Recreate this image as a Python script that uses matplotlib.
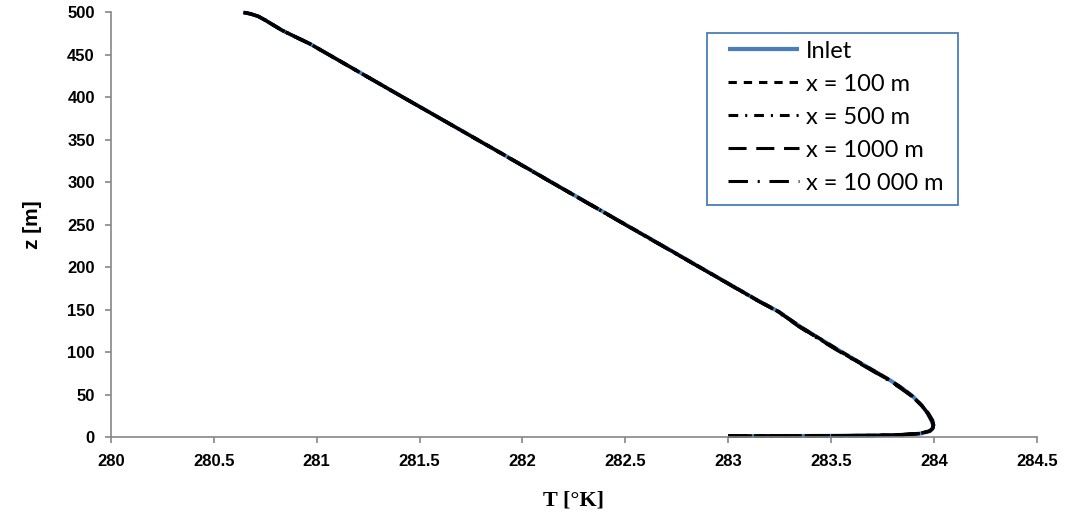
import matplotlib
matplotlib.use("Agg")
import matplotlib.pyplot as plt
from matplotlib.patches import Rectangle

# vertical profile heights [m]
z = [1.2, 1.3, 1.8, 2.6, 4.2, 7.0, 10.0, 14.0, 20.0, 28.0, 37.0, 47.5, 57.0, 67.0,
     85.0, 102.5, 118.0, 130.0, 147.6, 161.4, 222.3, 288.9, 336.0, 375.4, 400.8,
     463.0, 471.5, 479.0, 486.0, 491.0, 495.5, 498.5, 500.0]

# temperature profiles [K]
T_inlet = [283.00, 283.40, 283.72, 283.85, 283.94, 283.98, 283.993, 283.995, 283.986,
           283.968, 283.94, 283.898, 283.848, 283.785, 283.658, 283.535, 283.43, 283.35,
           283.245, 283.139, 282.702, 282.222, 281.884, 281.599, 281.415, 280.968, 280.895,
           280.832, 280.784, 280.75, 280.716, 280.677, 280.644]
T_100 = [283.00, 283.40, 283.72, 283.85, 283.94, 283.98, 283.993, 283.995, 283.986,
         283.968, 283.94, 283.898, 283.848, 283.785, 283.658, 283.535, 283.43, 283.35,
         283.245, 283.139, 282.702, 282.222, 281.884, 281.599, 281.415, 280.968, 280.895,
         280.832, 280.784, 280.75, 280.716, 280.677, 280.644]
T_500 = [283.00, 283.39, 283.71, 283.84, 283.935, 283.978, 283.992, 283.996, 283.988,
         283.968, 283.94, 283.896, 283.845, 283.783, 283.655, 283.532, 283.428, 283.348,
         283.244, 283.138, 282.70, 282.221, 281.883, 281.599, 281.415, 280.968, 280.895,
         280.832, 280.784, 280.75, 280.716, 280.677, 280.644]
T_1000 = [283.00, 283.38, 283.70, 283.84, 283.93, 283.976, 283.992, 283.997, 283.99,
          283.97, 283.94, 283.895, 283.843, 283.781, 283.653, 283.53, 283.425, 283.346,
          283.243, 283.137, 282.70, 282.22, 281.883, 281.599, 281.415, 280.968, 280.895,
          280.832, 280.784, 280.75, 280.716, 280.677, 280.644]
T_10000 = [283.00, 283.37, 283.69, 283.83, 283.93, 283.975, 283.991, 283.998, 283.992,
           283.972, 283.941, 283.894, 283.84, 283.778, 283.65, 283.527, 283.422, 283.343,
           283.241, 283.136, 282.699, 282.219, 281.882, 281.598, 281.415, 280.968, 280.895,
           280.832, 280.784, 280.75, 280.716, 280.677, 280.644]

labels = ["Inlet", "x = 100 m", "x = 500 m", "x = 1000 m", "x = 10 000 m"]
xticks = [280, 280.5, 281, 281.5, 282, 282.5, 283, 283.5, 284, 284.5]
yticks = [0, 50, 100, 150, 200, 250, 300, 350, 400, 450, 500]

plt.rcParams["lines.scale_dashes"] = False
blue = "#4A7EBB"
grey = "#868686"

fig = plt.figure(figsize=(10.69, 5.19), dpi=100)
ax = fig.add_axes([0.1036, 0.158, 0.8665, 0.818])

lw = 2.4
ax.plot(T_inlet, z, color=blue, lw=2.8, label=labels[0], clip_on=False, solid_capstyle="butt")
ax.plot(T_100, z, color="black", lw=lw, dashes=(6, 5), label=labels[1], clip_on=False)
ax.plot(T_500, z, color="black", lw=lw, dashes=(7, 5, 1.5, 5), label=labels[2], clip_on=False)
ax.plot(T_1000, z, color="black", lw=lw, dashes=(13, 7), label=labels[3], clip_on=False)
ax.plot(T_10000, z, color="black", lw=lw, dashes=(14, 7, 1.5, 7), label=labels[4], clip_on=False)

ax.set_xlim(280, 284.5)
ax.set_ylim(0, 500)
ax.set_xticks(xticks)
ax.set_xticklabels([f"{t:g}" for t in xticks])
ax.set_yticks(yticks)

for side in ["top", "right"]:
    ax.spines[side].set_visible(False)
for side in ["left", "bottom"]:
    ax.spines[side].set_color(grey)
    ax.spines[side].set_linewidth(1.2)

ax.tick_params(axis="both", direction="out", length=4.5, width=1.2, color=grey)
ax.tick_params(axis="x", pad=8)
ax.tick_params(axis="y", pad=7)
for lab in ax.get_xticklabels() + ax.get_yticklabels():
    lab.set_fontfamily("Liberation Sans")
    lab.set_fontweight("bold")
    lab.set_fontsize(12)

ax.set_xlabel("T [°K]", fontfamily="Liberation Serif", fontweight="bold", fontsize=16, labelpad=15)
ax.set_ylabel("z [m]", fontfamily="Liberation Sans", fontweight="bold", fontsize=15, labelpad=18)

# legend: entries without frame, box drawn separately
leg = ax.legend(loc="upper left", bbox_to_anchor=(0.661, 0.945), borderaxespad=0,
                prop={"family": "Lato", "size": 17}, handlelength=3.0, handletextpad=0.3,
                labelspacing=0.51, borderpad=0.2, frameon=False)
for h in leg.get_lines():
    h.set_linewidth(2.2)
leg.get_lines()[0].set_linewidth(3.0)
box = Rectangle((0.6434, 0.5466), 0.2715, 0.4054, transform=ax.transAxes, fill=False,
                edgecolor=blue, lw=1.3, clip_on=False)
ax.add_patch(box)

fig.savefig("out.png", dpi=100)
